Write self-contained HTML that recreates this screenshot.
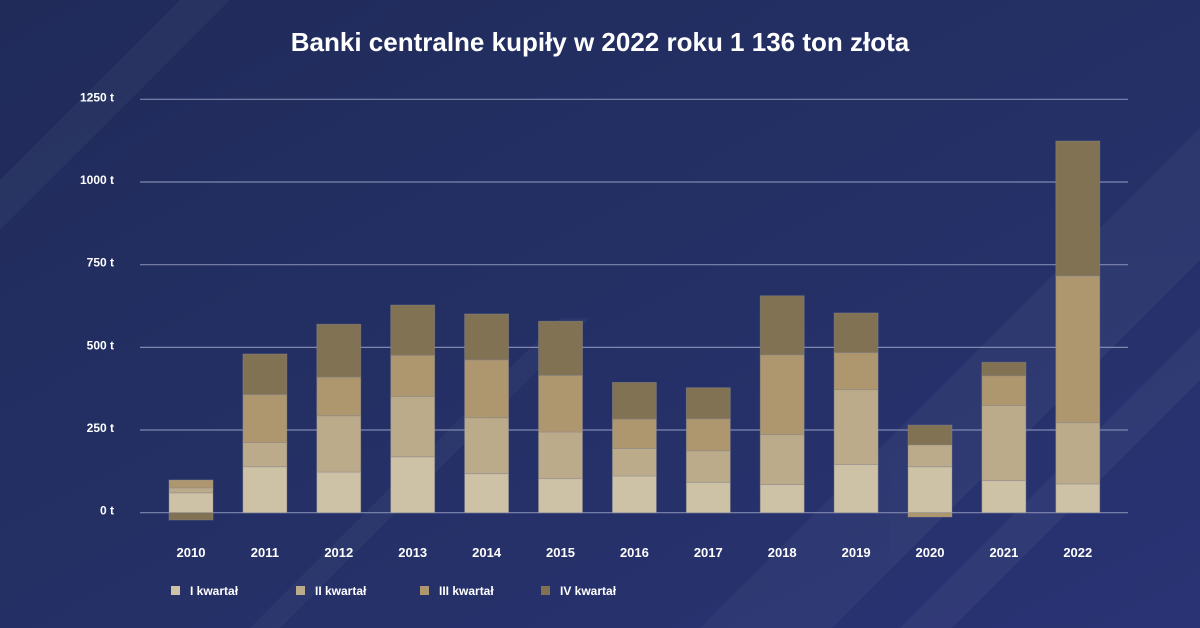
<!DOCTYPE html>
<html><head><meta charset="utf-8"><style>
body{margin:0;width:1200px;height:628px;overflow:hidden;font-family:"Liberation Sans",sans-serif;}
svg{display:block}
</style></head><body>
<svg width="1200" height="628" xmlns="http://www.w3.org/2000/svg">
<defs>
<linearGradient id="bg" x1="0" y1="0" x2="1" y2="1">
<stop offset="0" stop-color="#202b5a"/><stop offset="0.5" stop-color="#243065"/><stop offset="1" stop-color="#2a3374"/>
</linearGradient>
</defs>
<rect width="1200" height="628" fill="url(#bg)"/>
<g opacity="0.035" fill="#ffffff">
<polygon points="0,180 180,0 230,0 0,230"/>
<polygon points="700,628 1200,128 1200,260 832,628"/>
<polygon points="900,628 1200,328 1200,380 952,628"/>
<polygon points="250,628 560,318 590,318 280,628"/>
</g>
<text x="600" y="51" text-anchor="middle" fill="#fff" font-size="26" font-weight="bold">Banki centralne kupiły w 2022 roku 1 136 ton złota</text>
<g id="grid"></g><g id="bars"></g><g id="xl"></g><g id="legend"></g>
</svg>
<script>
const years=["2010","2011","2012","2013","2014","2015","2016","2017","2018","2019","2020","2021","2022"];
const q1=[60,139,123,169,118,103,111,92,85,146,139,97,87];
const q2=[15,73,170,182,169,141,83,95,151,226,66,227,185];
const q3=[24,145,117,125,175,171,89,97,241,112,-13,90,444];
const q4=[-22,123,160,152,139,164,111,94,179,120,60,41,408];
const ticks=[0,250,500,750,1000,1250];
const seriesNames=["I kwartał","II kwartał","III kwartał","IV kwartał"];
const colors=["#cdc1a6","#bcab8a","#ae976e","#827254"];
const NS="http://www.w3.org/2000/svg";
const y0=512.7,pxPer=0.3307;
const y=v=>y0-v*pxPer;
const x=i=>191+i*73.9;
function mk(t,a,p){const e=document.createElementNS(NS,t);for(const k in a)e.setAttribute(k,a[k]);p.appendChild(e);return e;}
const grid=document.getElementById('grid');
ticks.forEach(t=>{
 const l=mk('line',{x1:140,x2:1128,y1:y(t),y2:y(t),stroke:'#8088b0','stroke-width':1.2},grid);
 
 
 const tx=mk('text',{x:114,y:y(t)+2,'text-anchor':'end',fill:'#fff','font-size':12,'font-weight':'bold'},grid);
 tx.textContent=t+' t';
 
 
});
const bars=document.getElementById('bars');
const series=[q1,q2,q3,q4];
years.forEach((yr,i)=>{
 let pos=0,neg=0;
 series.forEach((s,k)=>{
  const v=s[i];let top,bot;
  if(v>=0){bot=pos;pos+=v;top=pos;}else{top=neg;neg+=v;bot=neg;}
  const r=mk('rect',{x:x(i)-22,y:y(top),width:44,height:Math.max(0,y(bot)-y(top)),fill:colors[k],stroke:'#8a8a90','stroke-opacity':0.5,'stroke-width':0.8},bars);
  
  
 });
 const t=mk('text',{x:x(i),y:557,'text-anchor':'middle',fill:'#fff','font-size':13,'font-weight':'bold'},document.getElementById('xl'));
 t.textContent=yr;
 
 
});
const lg=document.getElementById('legend');
const lx=[171,296,420,541];
seriesNames.forEach((n,k)=>{
 const r=mk('rect',{x:lx[k],y:586,width:9,height:9,fill:colors[k]},lg);
 
 
 const t=mk('text',{x:lx[k]+19,y:595,fill:'#fff','font-size':12,'font-weight':'bold'},lg);
 t.textContent=n;
 
 
});
</script>
</body></html>
